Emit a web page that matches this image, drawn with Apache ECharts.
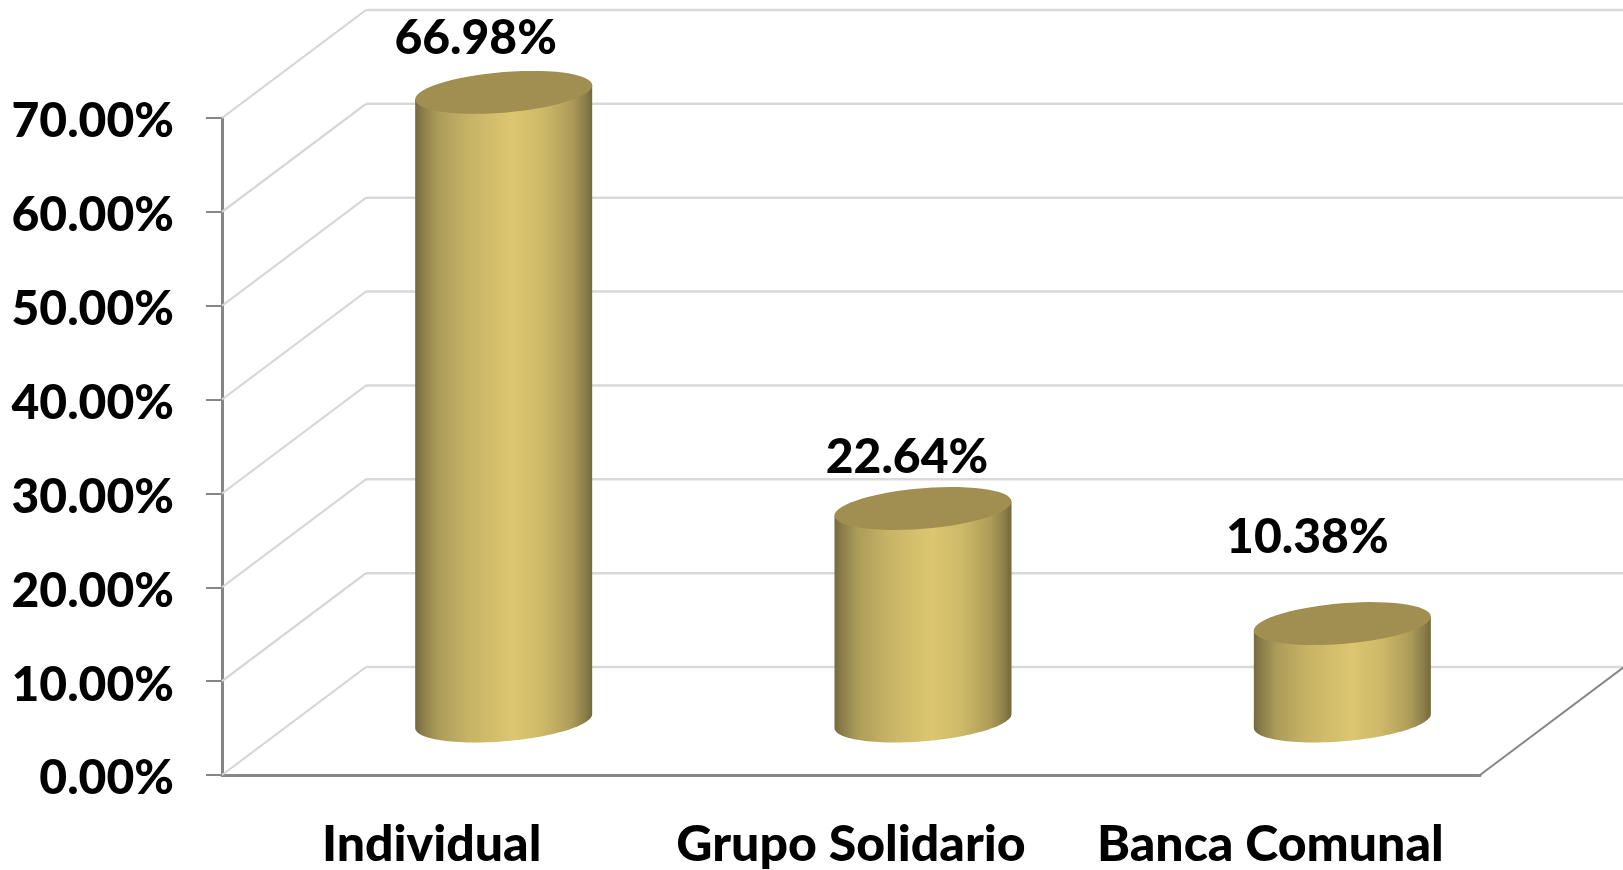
<!DOCTYPE html>
<html>
<head>
<meta charset="utf-8">
<style>html,body{margin:0;padding:0;background:#fff}#c{width:1623px;height:870px}</style>
<script src="https://cdn.jsdelivr.net/npm/echarts@6/dist/echarts.min.js"></script>
</head>
<body>
<div id="c"></div>
<script>
var categories = ['Individual', 'Grupo Solidario', 'Banca Comunal'];
var shares = [66.98, 22.64, 10.38];
var shareLabels = ['66.98%', '22.64%', '10.38%'];
var gridValues = [0, 10, 20, 30, 40, 50, 60, 70];

// 3-D look: depth vector of the chart box, cylinder shape, hand-placed label offsets
var DEPTH = [144, -108];
var CYL_HALF_W = 88.5, CYL_TILT = 7, CYL_MINOR = 20.3;
var LABEL_OFFSETS = [[-28, -54], [-16, -51], [-35, -86]];
var FONT = 'Lato, "Open Sans", sans-serif';
var TICK_FONT_SIZE = 48;
var CAT_FONT_SIZE = 50;

function ellipsePoint(c, t) {
  return [c[0] + Math.cos(t) * CYL_HALF_W, c[1] - Math.cos(t) * CYL_TILT + Math.sin(t) * CYL_MINOR];
}
function ellipseArc(c, from, to) {
  var pts = [], n = 60;
  for (var i = 0; i <= n; i++) pts.push(ellipsePoint(c, from + (to - from) * i / n));
  return pts;
}
var bodyGradient = {
  type: 'linear', x: 0, y: 0, x2: 1, y2: 0,
  colorStops: [
    {offset: 0, color: '#756A3E'}, {offset: 0.04, color: '#8A7C49'},
    {offset: 0.13, color: '#AC9C5A'}, {offset: 0.3, color: '#C6B365'},
    {offset: 0.55, color: '#DCC670'}, {offset: 0.72, color: '#CDB968'},
    {offset: 0.88, color: '#AE9D5A'}, {offset: 0.96, color: '#8C7E49'},
    {offset: 1, color: '#73673B'}
  ]
};

function renderGrid(params, api) {
  var cs = params.coordSys;
  var x0 = cs.x, x1 = cs.x + cs.width;
  var v = api.value(1);
  var y = api.coord([0, v])[1];
  var children = [
    {type: 'line', shape: {x1: x0, y1: y, x2: x0 + DEPTH[0], y2: y + DEPTH[1]},
     style: {stroke: '#D4D4D4', lineWidth: 2}},
    {type: 'line', shape: {x1: x0 + DEPTH[0], y1: y + DEPTH[1], x2: x1 + DEPTH[0], y2: y + DEPTH[1]},
     style: {stroke: '#D9D9D9', lineWidth: 2.5}}
  ];
  if (v === 0) {
    children.push({type: 'line', shape: {x1: x1, y1: y, x2: x1 + DEPTH[0], y2: y + DEPTH[1]},
      style: {stroke: '#868686', lineWidth: 2}});
  }
  return {type: 'group', children: children};
}

function renderCylinder(params, api) {
  var i = api.value(0), v = api.value(1);
  var top = api.coord([i, v]), bottom = api.coord([i, 0]);
  var ct = [top[0] + DEPTH[0] / 2, top[1] + DEPTH[1] / 2];
  var cb = [bottom[0] + DEPTH[0] / 2, bottom[1] + DEPTH[1] / 2];
  var body = [ellipsePoint(ct, 0)].concat(ellipseArc(cb, 0, Math.PI), [ellipsePoint(ct, Math.PI)]);
  var off = LABEL_OFFSETS[params.dataIndex];
  return {type: 'group', children: [
    {type: 'polygon', shape: {points: body}, style: {fill: bodyGradient}},
    {type: 'polygon', shape: {points: ellipseArc(ct, 0, Math.PI * 2)}, style: {fill: '#A08F50'}},
    {type: 'text', x: ct[0] + off[0], y: ct[1] + off[1],
     style: {text: shareLabels[params.dataIndex], fill: '#000', font: '900 ' + TICK_FONT_SIZE + 'px ' + FONT,
             textAlign: 'center', textVerticalAlign: 'middle'}}
  ]};
}

var chart = echarts.init(document.getElementById('c'), null, {renderer: 'canvas'});
chart.setOption({
  animation: false,
  backgroundColor: '#fff',
  grid: {left: 222, right: 143, top: 118, bottom: 95, containLabel: false},
  xAxis: {
    type: 'category', data: categories,
    axisLine: {show: true, lineStyle: {color: '#868686', width: 3}},
    axisTick: {show: false},
    axisLabel: {color: '#000', fontFamily: FONT, fontWeight: 900, fontSize: CAT_FONT_SIZE, margin: 45, interval: 0}
  },
  yAxis: {
    type: 'value', min: 0, max: 70, interval: 10,
    axisLine: {show: true, lineStyle: {color: '#868686', width: 3}},
    axisTick: {show: true, length: 16, lineStyle: {color: '#868686', width: 2}},
    splitLine: {show: false},
    axisLabel: {color: '#000', fontFamily: FONT, fontWeight: 900, fontSize: TICK_FONT_SIZE, margin: 48,
      formatter: function (v) { return '{v|' + v.toFixed(2) + '%}'; },
      rich: {v: {color: '#000', fontFamily: FONT, fontWeight: 900, fontSize: TICK_FONT_SIZE, padding: [8, 0, 0, 0]}}}
  },
  series: [
    {type: 'custom', silent: true, z: 1, clip: false, renderItem: renderGrid,
     data: gridValues.map(function (v) { return [0, v]; }), encode: {x: 0, y: 1}},
    {type: 'custom', silent: true, z: 3, clip: false, renderItem: renderCylinder,
     data: shares.map(function (v, i) { return [i, v]; }), encode: {x: 0, y: 1}}
  ]
});
</script>
</body>
</html>
